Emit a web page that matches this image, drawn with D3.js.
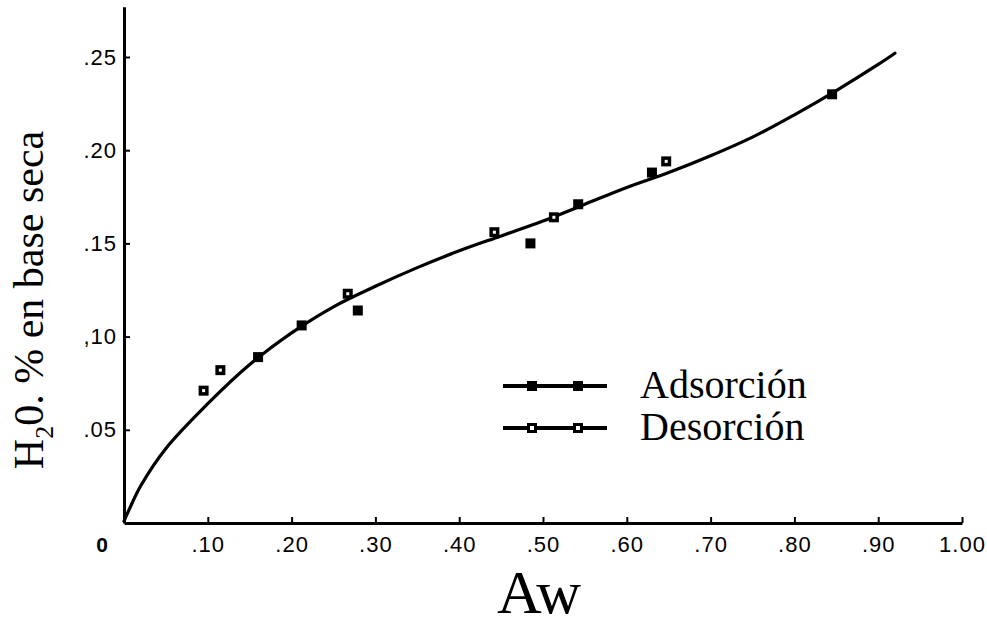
<!DOCTYPE html>
<html>
<head>
<meta charset="utf-8">
<script src="https://cdn.jsdelivr.net/npm/d3@7"></script>
<style>
  html, body { margin: 0; padding: 0; background: #fff; }
  svg { display: block; }
</style>
</head>
<body>
<svg id="chart" width="987" height="626"></svg>
<script>
// ---- data ----
const adsAw  = [0.160, 0.212, 0.279, 0.485, 0.542, 0.630, 0.845];
const adsH2O = [0.089, 0.106, 0.114, 0.150, 0.171, 0.188, 0.230];

const desAw  = [0.095, 0.115, 0.267, 0.442, 0.513, 0.647];
const desH2O = [0.071, 0.082, 0.123, 0.156, 0.164, 0.194];

const curveAw  = [0, 0.01, 0.02, 0.05, 0.10, 0.15, 0.20, 0.25, 0.30, 0.35, 0.40, 0.45, 0.50, 0.55, 0.60, 0.65, 0.70, 0.75, 0.80, 0.85, 0.90, 0.92];
const curveH2O = [0.001, 0.011, 0.020, 0.040, 0.064, 0.085, 0.102, 0.116, 0.127, 0.137, 0.146, 0.154, 0.162, 0.171, 0.180, 0.188, 0.197, 0.207, 0.219, 0.232, 0.246, 0.252];

const xTicks = [0.10, 0.20, 0.30, 0.40, 0.50, 0.60, 0.70, 0.80, 0.90, 1.00];
const xTickLabels = [".10", ".20", ".30", ".40", ".50", ".60", ".70", ".80", ".90", "1.00"];
const yTicks = [0.05, 0.10, 0.15, 0.20, 0.25];
const yTickLabels = [".05", ",10", ".15", ".20", ".25"];

const legendLabels = ["Adsorción", "Desorción"];
const xTitle = "Aw";

// ---- layout ----
const svg = d3.select("#chart");
const x = d3.scaleLinear().domain([0, 1]).range([124, 962]);
const yPerUnit = 1864;
const y = d3.scaleLinear().domain([0, 0.277]).range([523, 523 - 0.277 * yPerUnit]);

const ink = "#000";
const tickFont = "'Liberation Sans', Arial, sans-serif";
const serif = "'Liberation Serif', 'Times New Roman', serif";

// x axis
const xAxis = d3.axisBottom(x)
  .tickValues(xTicks)
  .tickFormat((d, i) => xTickLabels[i])
  .tickSizeInner(-6)
  .tickSizeOuter(0)
  .tickPadding(13);
const gx = svg.append("g").attr("transform", `translate(0,${y(0)})`).call(xAxis);
gx.select(".domain").attr("stroke", ink).attr("stroke-width", 3);
gx.selectAll(".tick line").attr("stroke", ink).attr("stroke-width", 2);
gx.selectAll(".tick text")
  .attr("fill", ink)
  .style("font-family", tickFont)
  .style("font-size", "22px")
  .style("letter-spacing", "1px");

// "0" origin label
svg.append("text")
  .attr("x", x(0) - 22).attr("y", y(0) + 29)
  .attr("text-anchor", "middle")
  .style("font-family", tickFont)
  .style("font-size", "21px")
  .style("font-weight", "bold")
  .text("0");

// y axis
const yAxis = d3.axisLeft(y)
  .tickValues(yTicks)
  .tickFormat((d, i) => yTickLabels[i])
  .tickSizeInner(-6)
  .tickSizeOuter(0)
  .tickPadding(7);
const gy = svg.append("g").attr("transform", `translate(${x(0)},0)`).call(yAxis);
gy.select(".domain").attr("stroke", ink).attr("stroke-width", 3);
gy.selectAll(".tick line").attr("stroke", ink).attr("stroke-width", 2);
gy.selectAll(".tick text")
  .attr("fill", ink)
  .style("font-family", tickFont)
  .style("font-size", "22px")
  .style("letter-spacing", "1px");

// fitted curve
const curvePts = curveAw.map((a, i) => [a, curveH2O[i]]);
const line = d3.line()
  .x(d => x(d[0]))
  .y(d => y(d[1]))
  .curve(d3.curveCatmullRom.alpha(0.5));
svg.append("path")
  .datum(curvePts)
  .attr("d", line)
  .attr("fill", "none")
  .attr("stroke", ink)
  .attr("stroke-width", 3.2)
  .attr("stroke-linecap", "round");

// markers
const sq = 10;
svg.append("g").selectAll("rect")
  .data(adsAw.map((a, i) => [a, adsH2O[i]]))
  .join("rect")
  .attr("x", d => x(d[0]) - sq / 2)
  .attr("y", d => y(d[1]) - sq / 2)
  .attr("width", sq).attr("height", sq)
  .attr("fill", ink);

const desG = svg.append("g").selectAll("g")
  .data(desAw.map((a, i) => [a, desH2O[i]]))
  .join("g")
  .attr("transform", d => `translate(${x(d[0])},${y(d[1])})`);
desG.append("rect")
  .attr("x", -sq / 2).attr("y", -sq / 2)
  .attr("width", sq).attr("height", sq)
  .attr("fill", ink);
desG.append("rect")
  .attr("x", -1.5).attr("y", -1.5)
  .attr("width", 3).attr("height", 3)
  .attr("fill", "#fff");

// legend
const legY = [386, 428];
const lg = svg.append("g");
legendLabels.forEach((lab, i) => {
  const g = lg.append("g").attr("transform", `translate(0,${legY[i]})`);
  g.append("line")
    .attr("x1", 503).attr("x2", 607).attr("y1", 0).attr("y2", 0)
    .attr("stroke", ink).attr("stroke-width", 4);
  [532, 578].forEach(mx => {
    g.append("rect")
      .attr("x", mx - 5).attr("y", -5).attr("width", 10).attr("height", 10)
      .attr("fill", ink);
    if (i === 1) {
      g.append("rect")
        .attr("x", mx - 2).attr("y", -2).attr("width", 4).attr("height", 4)
        .attr("fill", "#fff");
    }
  });
  g.append("text")
    .attr("x", 640).attr("y", 12)
    .style("font-family", serif)
    .style("font-size", "40px")
    .text(lab);
});

// axis titles
svg.append("text")
  .attr("x", 539).attr("y", 613)
  .attr("text-anchor", "middle")
  .style("font-family", serif)
  .style("font-size", "62px")
  .text(xTitle);

const yt = svg.append("text")
  .attr("transform", "translate(43,300) rotate(-90)")
  .attr("text-anchor", "middle")
  .style("font-family", serif)
  .style("font-size", "42px");
yt.append("tspan").text("H");
yt.append("tspan").attr("dy", 10).style("font-size", "26px").text("2");
yt.append("tspan").attr("dy", -10).text("0. % en base seca");
</script>
</body>
</html>
